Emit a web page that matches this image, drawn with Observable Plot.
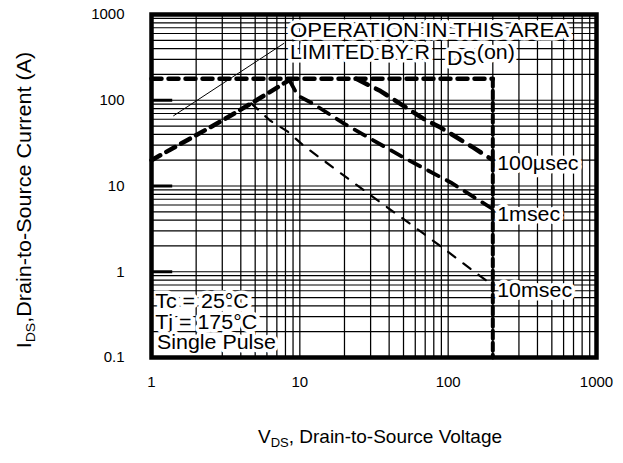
<!DOCTYPE html>
<html>
<head>
<meta charset="utf-8">
<script src="https://cdn.jsdelivr.net/npm/d3@7"></script>
<script src="https://cdn.jsdelivr.net/npm/@observablehq/plot@0.6"></script>
<style>
  html, body { margin: 0; padding: 0; background: #fff; }
  svg { display: block; }
</style>
</head>
<body>
<div id="chart"></div>
<script>
// ---- tick labels ----
const xTicks = [1, 10, 100, 1000];
const yTicks = [0.1, 1, 10, 100, 1000];
const decadeMarks = [1, 10, 100];

// ---- boundary / limit lines (VDS [V], IDS [A]) ----
const rdsLimit = [[1, 20], [3, 58], [5, 98], [8.5, 172]];
const currentLimit = [[1, 178], [200, 178]];
const voltageLimit = [[200, 178], [200, 0.1]];

// ---- pulse curves ----
const pulse100us = [[24, 178], [35, 128], [50, 86], [68, 61], [89, 48], [148, 28], [200, 20]];
const pulse1ms = [[8.5, 172], [9.7, 113], [12.3, 91], [20, 53], [50, 21.5], [104, 11], [196, 5.5]];
const pulse10ms = [[4.7, 92], [6.3, 58], [8.3, 43], [10.6, 29.5], [30, 7.8], [68, 2.8], [192, 0.73]];

// ---- leader line of RDS(on) note ----
const leader = [[1.41, 66], [7.8, 460]];

// ---- labels ----
const curveLabels = [
  {v: 214, i: 18.2, text: "100µsec"},
  {v: 214, i: 4.7, text: "1msec"},
  {v: 214, i: 0.61, text: "10msec"}
];
const noteLabels = [
  {v: 8.6, i: 650, text: "OPERATION IN THIS AREA"},
  {v: 8.6, i: 362, text: "LIMITED BY RDS(on)"}
];
const condLabels = [
  {v: 1.06, i: 0.45, text: "Tc = 25°C"},
  {v: 1.06, i: 0.255, text: "Tj = 175°C"},
  {v: 1.09, i: 0.149, text: "Single Pulse"}
];

const xGrid = d3.scaleLog().domain([1, 1000]).ticks();
const yGrid = d3.scaleLog().domain([0.1, 1000]).ticks();

const FONT = "'Liberation Sans', Arial, Helvetica, sans-serif";
const px = d => d[0], py = d => d[1];

const chart = Plot.plot({
  width: 623,
  height: 463,
  marginLeft: 151,
  marginRight: 27,
  marginTop: 14,
  marginBottom: 106,
  style: {fontFamily: FONT, fontSize: "15px", color: "#000", background: "#fff", overflow: "visible"},
  x: {type: "log", domain: [1, 1000], ticks: xTicks, tickFormat: d => String(d), tickSize: 0, tickPadding: 19, label: null},
  y: {type: "log", domain: [0.1, 1000], ticks: yTicks, tickFormat: d => String(d), tickSize: 0, tickPadding: 27, label: null},
  marks: [
    Plot.ruleX(xGrid, {stroke: "#000", strokeWidth: 1.25}),
    Plot.ruleY(yGrid, {stroke: "#000", strokeWidth: 1.15}),
    Plot.ruleY(decadeMarks, {x1: 1, x2: 1.39, stroke: "#000", strokeWidth: 3}),
    Plot.line(leader, {x: px, y: py, stroke: "#000", strokeWidth: 1}),
    Plot.line(rdsLimit, {x: px, y: py, stroke: "#000", strokeWidth: 4.5, strokeDasharray: "10,7"}),
    Plot.line(currentLimit, {x: px, y: py, stroke: "#000", strokeWidth: 4.5, strokeDasharray: "10,7"}),
    Plot.line(voltageLimit, {x: px, y: py, stroke: "#000", strokeWidth: 4, strokeDasharray: "8,4"}),
    Plot.line(pulse100us, {x: px, y: py, stroke: "#000", strokeWidth: 4.5, strokeDasharray: "13,9"}),
    Plot.line(pulse1ms, {x: px, y: py, stroke: "#000", strokeWidth: 3.8, strokeDasharray: "12,9"}),
    Plot.line(pulse10ms, {x: px, y: py, stroke: "#000", strokeWidth: 2.2, strokeDasharray: "9,10"}),
    Plot.text(noteLabels, {x: "v", y: "i", text: "text", textAnchor: "start", fontSize: 20, fill: "#000", stroke: "#fff", strokeWidth: 7, strokeLinejoin: "round"}),
    Plot.text(curveLabels, {x: "v", y: "i", text: "text", textAnchor: "start", fontSize: 20, fill: "#000", stroke: "#fff", strokeWidth: 7, strokeLinejoin: "round"}),
    Plot.text(condLabels, {x: "v", y: "i", text: "text", textAnchor: "start", fontSize: 20, fill: "#000", stroke: "#fff", strokeWidth: 7, strokeLinejoin: "round"}),
    Plot.frame({stroke: "#000", strokeWidth: 4.5})
  ]
});

document.getElementById("chart").appendChild(chart);

const svg = d3.select(chart);
const annot = new Set([...noteLabels, ...curveLabels, ...condLabels].map(d => d.text));

svg.selectAll("text").each(function () {
  const txt = this.textContent;
  if (!annot.has(txt)) return;
  this.setAttribute("paint-order", "stroke");
  let s = 1.07;
  if (txt === "LIMITED BY RDS(on)") {
    const t = d3.select(this);
    t.text("LIMITED BY R");
    t.append("tspan").attr("dx", "16").attr("dy", "6").text("DS");
    t.append("tspan").attr("dy", "-6").text("(on)");
  }
  if (txt === "OPERATION IN THIS AREA") s = 1.11;
  const tr = this.getAttribute("transform") || "";
  const x = +this.getAttribute("x") || 0, y = +this.getAttribute("y") || 0;
  this.setAttribute("transform", `${tr} translate(${x},${y}) scale(${s},1) translate(${-x},${-y})`);
});

// axis titles with subscripts
const yt = svg.append("text")
  .attr("transform", "translate(31,200) rotate(-90) scale(1.08,1)")
  .attr("text-anchor", "middle")
  .attr("font-family", FONT)
  .attr("font-size", 20)
  .attr("fill", "#000");
yt.append("tspan").text("I");
yt.append("tspan").attr("font-size", 13).attr("dy", 4).text("DS");
yt.append("tspan").attr("dy", -4).text(",Drain-to-Source Current (A)");

const xt = svg.append("text")
  .attr("x", 380)
  .attr("y", 443)
  .attr("text-anchor", "middle")
  .attr("font-family", FONT)
  .attr("font-size", 19)
  .attr("fill", "#000");
xt.append("tspan").text("V");
xt.append("tspan").attr("font-size", 13).attr("dy", 4).text("DS");
xt.append("tspan").attr("dy", -4).text(", Drain-to-Source Voltage");
</script>
</body>
</html>
